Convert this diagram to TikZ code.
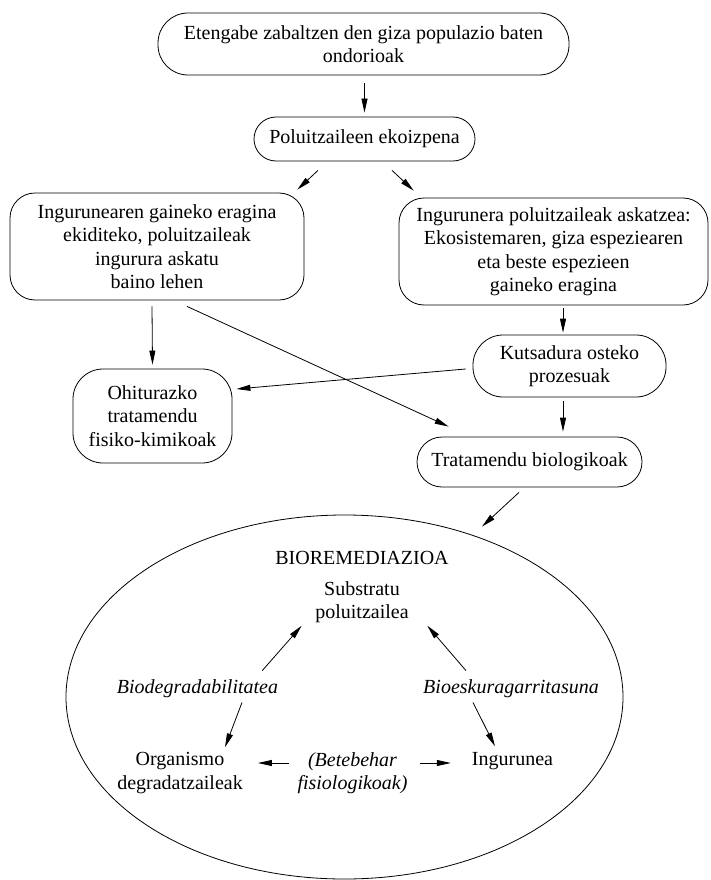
\documentclass[tikz,border=0pt]{standalone}
\usepackage{fontspec}
\setmainfont{Liberation Serif}
\usetikzlibrary{shapes.geometric,arrows.meta}
\tikzset{
  box/.style={draw, align=center, inner sep=0pt, line width=0.8pt},
  txt/.style={align=center, inner sep=0pt},
  arr/.style={-{Triangle[length=14pt,width=6pt]}, line width=0.8pt}
}
\begin{document}
\fontsize{20}{23.5}\selectfont
\begin{tikzpicture}[x=1pt,y=-1pt]
\useasboundingbox (0,0) rectangle (710,880);
\node[box, rounded corners=30pt, minimum width=411pt, minimum height=62pt] (etengabe) at (363.5,44) {Etengabe zabaltzen den giza populazio baten\\ondorioak};
\node[box, rounded corners=22pt, minimum width=221pt, minimum height=44pt] (ekoizpena) at (364.5,139) {Poluitzaileen ekoizpena};
\node[box, rounded corners=25pt, minimum width=294pt, minimum height=107pt] (ekidin) at (157,246.5) {Ingurunearen gaineko eragina\\ekiditeko, poluitzaileak\\ingurura askatu\\baino lehen};
\node[box, rounded corners=25pt, minimum width=309pt, minimum height=107pt] (askatzea) at (553.5,251.5) {Ingurunera poluitzaileak askatzea:\\Ekosistemaren, giza espeziearen\\eta beste espezieen\\gaineko eragina};
\node[box, rounded corners=30pt, minimum width=193pt, minimum height=62pt] (kutsadura) at (569.5,366) {Kutsadura osteko\\prozesuak};
\node[box, rounded corners=30pt, minimum width=159pt, minimum height=94pt] (ohiturazko) at (152.5,416) {Ohiturazko\\tratamendu\\fisiko-kimikoak};
\node[box, rounded corners=25pt, minimum width=225pt, minimum height=50pt] (biologiko) at (529.5,462) {Tratamendu biologikoak};
\node[draw, ellipse, line width=0.8pt, inner sep=0pt, minimum width=557pt, minimum height=364pt] (bioremed) at (344.5,697) {};
\node[txt] (titulua) at (362,558) {BIOREMEDIAZIOA};
\node[txt] (substratu) at (362,602) {Substratu\\poluitzailea};
\node[txt, font=\itshape] (biodeg) at (197.5,688.2) {Biodegradabilitatea};
\node[txt, font=\itshape] (bioesk) at (511,688.2) {Bioeskuragarritasuna};
\node[txt] (organismo) at (180,773) {Organismo\\degradatzaileak};
\node[txt, font=\itshape] (betebehar) at (352.5,773) {(Betebehar\\fisiologikoak)};
\node[txt] (ingurunea) at (512.5,761) {Ingurunea};
\draw[arr, shorten <=8pt, shorten >=4pt] (ekoizpena.north |- etengabe.south) -- (ekoizpena.north);
\draw[arr] ([xshift=-46.5pt,yshift=-9pt]ekoizpena.south) -- ([xshift=-7pt,yshift=3pt]ekidin.north east);
\draw[arr] ([xshift=27.5pt,yshift=-9pt]ekoizpena.south) -- ([xshift=15pt,yshift=7pt]askatzea.north west);
\draw[arr] ([xshift=9.5pt,yshift=-3pt]askatzea.south) -- ([xshift=-6.5pt,yshift=2pt]kutsadura.north);
\draw[arr] ([xshift=-5pt,yshift=-6pt]ekidin.south) -- ([yshift=4pt]ohiturazko.north);
\draw[arr] ([xshift=30pt,yshift=-6pt]ekidin.south) -- ([xshift=32pt,yshift=10pt]biologiko.north west);
\draw[arr] ([xshift=-7pt,yshift=-3pt]kutsadura.west) -- ([xshift=4pt,yshift=27pt]ohiturazko.east);
\draw[arr] ([xshift=-6.5pt,yshift=-4pt]kutsadura.south) -- ([xshift=33.5pt,yshift=5pt]biologiko.north);
\draw[arr] ([xshift=-10.5pt,yshift=-5pt]biologiko.south) -- ([xshift=137.5pt,yshift=-12pt]bioremed.north);
\draw[arr] ([xshift=-16pt,yshift=8.3pt]biodeg.north east) -- ([xshift=-13.5pt,yshift=-2.7pt]substratu.south west);
\draw[arr] ([xshift=43pt,yshift=8.3pt]bioesk.north west) -- ([xshift=18.5pt,yshift=-2.7pt]substratu.south east);
\draw[arr] ([xshift=44.5pt,yshift=-5pt]biodeg.south) -- ([xshift=45pt,yshift=5pt]organismo.north);
\draw[arr] ([xshift=-38pt,yshift=-5pt]bioesk.south) -- ([xshift=-17.5pt,yshift=5.8pt]ingurunea.north);
\draw[arr] ([xshift=-8pt,yshift=10pt]betebehar.west) -- ([xshift=15pt,yshift=10pt]organismo.east);
\draw[arr] ([xshift=12pt,yshift=10pt]betebehar.east) -- ([xshift=-21pt,yshift=-2pt]ingurunea.west);
\end{tikzpicture}
\end{document}
